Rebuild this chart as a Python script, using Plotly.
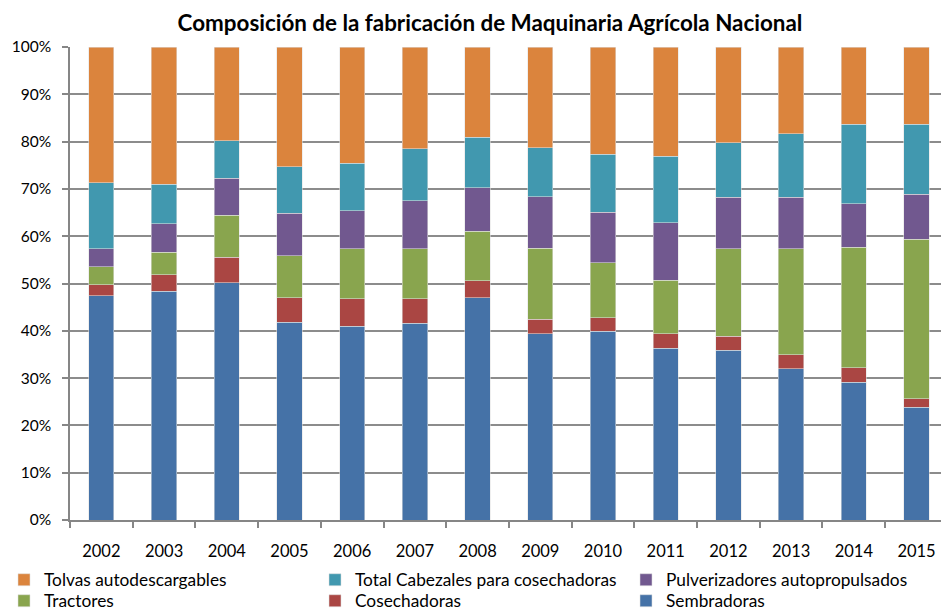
import plotly.graph_objects as go

years = ["2002", "2003", "2004", "2005", "2006", "2007", "2008", "2009", "2010",
         "2011", "2012", "2013", "2014", "2015"]

# segment shares (percent)
sembradoras    = [47.4, 48.4, 50.2, 41.8, 41.0, 41.6, 47.0, 39.4, 39.9, 36.3, 35.9, 32.0, 29.1, 23.8]
cosechadoras   = [2.3, 3.4, 5.4, 5.2, 5.8, 5.2, 3.6, 3.0, 2.9, 3.1, 3.0, 2.9, 3.1, 1.8]
tractores      = [3.8, 4.8, 8.8, 8.9, 10.5, 10.5, 10.5, 15.1, 11.6, 11.3, 18.5, 22.5, 25.5, 33.8]
pulverizadores = [3.9, 6.0, 7.9, 9.0, 8.1, 10.2, 9.1, 10.8, 10.7, 12.1, 10.8, 10.8, 9.2, 9.5]
cabezales      = [13.9, 8.4, 7.9, 9.8, 10.0, 11.0, 10.7, 10.4, 12.2, 14.1, 11.6, 13.5, 16.8, 14.8]
tolvas         = [28.7, 29.0, 19.8, 25.3, 24.6, 21.5, 19.1, 21.3, 22.7, 23.1, 20.2, 18.3, 16.3, 16.3]

# name, values, colour, legend slot (column, row)
series = [
    ("Sembradoras", sembradoras, "#4572A7", (2, 1)),
    ("Cosechadoras", cosechadoras, "#AA4643", (1, 1)),
    ("Tractores", tractores, "#89A54E", (0, 1)),
    ("Pulverizadores autopropulsados", pulverizadores, "#71588F", (2, 0)),
    ("Total Cabezales para cosechadoras", cabezales, "#4198AF", (1, 0)),
    ("Tolvas autodescargables", tolvas, "#DB843D", (0, 0)),
]

FONT = "Lato"
W, H = 941, 610
PLOT_TOP, PLOT_BOTTOM = 47, 520
PLOT_H = PLOT_BOTTOM - PLOT_TOP
LEGEND_TEXT_X = [44, 355, 666]
LEGEND_ROW_Y = [579, 600]

fig = go.Figure()
legends = {}
for i, (name, vals, color, (col, row)) in enumerate(series):
    key = "legend" if i == 0 else f"legend{i + 1}"
    fig.add_trace(go.Bar(
        x=years, y=[v / 100 for v in vals], name=name, legend=key,
        marker=dict(color=color, line=dict(color="rgba(225,225,225,0.9)", width=0.6)),
        width=0.403,
    ))
    legends[key] = dict(
        orientation="v",
        xref="container", yref="paper",
        x=(LEGEND_TEXT_X[col] - 40) / W, xanchor="left",
        y=-(LEGEND_ROW_Y[row] - 17 - PLOT_BOTTOM) / PLOT_H, yanchor="top",
        font=dict(family=FONT, size=17.3, color="#000000"),
        itemclick=False, bgcolor="rgba(0,0,0,0)",
    )

fig.update_layout(
    barmode="stack",
    width=W, height=H,
    paper_bgcolor="white", plot_bgcolor="white",
    margin=dict(l=70, r=0, t=PLOT_TOP, b=H - PLOT_BOTTOM, autoexpand=False),
    font=dict(family=FONT, size=16, color="#000000"),
    title=dict(
        text="<b>Composición de la fabricación de Maquinaria Agrícola Nacional</b>",
        x=490 / W, xanchor="center", y=1 - 23 / H, yanchor="middle",
        font=dict(family=FONT, size=22.4, color="#000000"),
    ),
    showlegend=True,
    xaxis=dict(
        type="category", range=[-0.5, 13.39], automargin=False,
        showline=True, linecolor="#868686", linewidth=1.5,
        ticks="outside", tickson="boundaries", ticklen=6, tickcolor="#868686", tickwidth=1.5,
        ticklabelstandoff=15,
        showgrid=False, tickfont=dict(family=FONT, size=16.5, color="#000000"),
    ),
    yaxis=dict(
        range=[0, 1], tickformat=".0%", dtick=0.1, automargin=False,
        showline=True, linecolor="#868686", linewidth=1.5,
        ticks="outside", ticklen=6, tickcolor="#868686", tickwidth=1.5,
        ticklabelstandoff=8,
        showgrid=True, gridcolor="#8c8c8c", gridwidth=1.5,
        zeroline=False,
        tickfont=dict(family=FONT, size=15.5, color="#000000"),
    ),
    **legends,
)

fig.write_html(
    "out.html",
    config={"displayModeBar": False},
    post_script="document.body.style.margin='0';document.body.style.overflow='hidden';",
)
